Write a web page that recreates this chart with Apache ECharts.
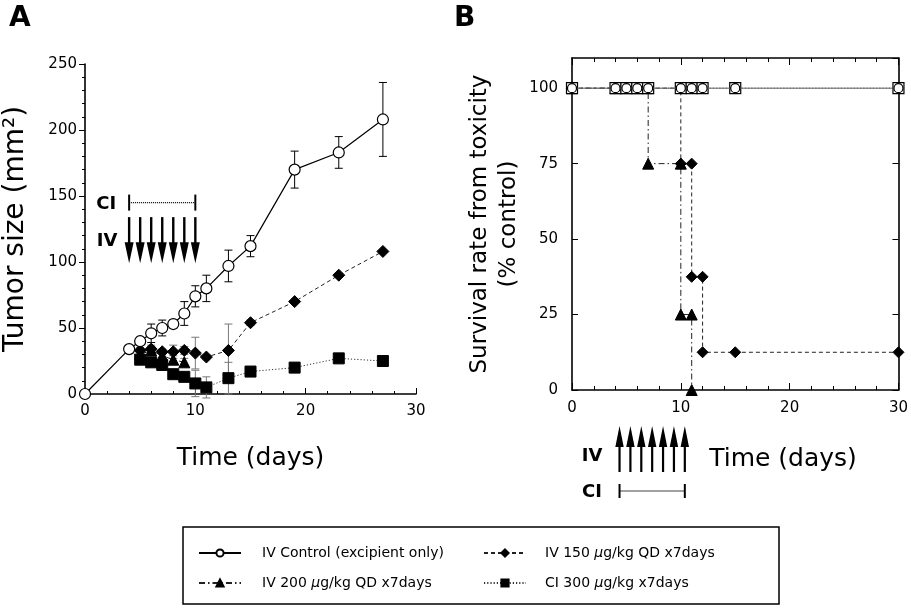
<!DOCTYPE html>
<html><head><meta charset="utf-8">
<script src="https://cdn.jsdelivr.net/npm/echarts@6/dist/echarts.min.js"></script>
<style>html,body{margin:0;padding:0;background:#fff}#c{width:911px;height:610px}</style>
</head><body><div id="c"></div><script>
// ---------- DATA ----------
const NAME_CTRL = 'IV Control (excipient only)';
const NAME_150 = 'IV 150 μg/kg QD x7days';
const NAME_200 = 'IV 200 μg/kg QD x7days';
const NAME_CI = 'CI 300 μg/kg x7days';

// Panel A: tumor size (mm2)
const ctrlDays = [0, 4, 5, 6, 7, 8, 9, 10, 11, 13, 15, 19, 23, 27];
const ctrlSize = [0, 34, 40, 46, 50, 53, 61, 74, 80, 97, 112, 170, 183, 208];
const ctrlErr  = [0, 0, 3, 7, 6, 3, 9, 8, 10, 12, 8, 14, 12, 28];

const iv150Days = [4, 5, 6, 7, 8, 9, 10, 11, 13, 15, 19, 23, 27];
const iv150Size = [34, 33, 34, 32, 32, 33, 31, 28, 33, 54, 70, 90, 108];
const iv150Err  = [0, 2, 3, 2, 5, 3, 12, 2, 20, 2, 0, 0, 0];

const iv200Days = [4, 5, 6, 7, 8, 9];
const iv200Size = [34, 30, 33, 29, 26, 24];
const iv200Err  = [0, 2, 3, 2, 3, 3];

const ci300Days = [4, 5, 6, 7, 8, 9, 10, 11, 13, 15, 19, 23, 27];
const ci300Size = [34, 26, 24, 22, 15, 13, 8, 5, 12, 17, 20, 27, 25];
const ci300Err  = [0, 3, 3, 2, 2, 2, 10, 8, 12, 2, 0, 0, 0];

// Panel B: survival (% control)
const survCtrlDays = [0, 4, 5, 6, 7, 10, 11, 12, 15, 30];
const survCtrl     = [100, 100, 100, 100, 100, 100, 100, 100, 100, 100];
const survCiDays   = [0, 4, 5, 6, 7, 10, 11, 12, 15, 30];
const survCi       = [100, 100, 100, 100, 100, 100, 100, 100, 100, 100];
const surv150Days  = [0, 4, 5, 6, 7, 10, 10, 11, 11, 12, 12, 15, 30];
const surv150      = [100, 100, 100, 100, 100, 100, 75, 75, 37.5, 37.5, 12.5, 12.5, 12.5];
const surv200Days  = [0, 4, 5, 6, 7, 7, 10, 10, 11, 11];
const surv200      = [100, 100, 100, 100, 100, 75, 75, 25, 25, 0];

// Dosing schedule (days)
const doseDays = [4, 5, 6, 7, 8, 9, 10];
const ciStart = 4, ciEnd = 10;

// Axis ticks
const xTicksA = [0, 10, 20, 30];
const yTicksA = [0, 50, 100, 150, 200, 250];
const yTicksB = [0, 25, 50, 75, 100];

// ---------- CHART ----------
const FONT = 'DejaVu Sans';
const chart = echarts.init(document.getElementById('c'));
const pairs = (xs, ys) => xs.map((x, i) => [x, ys[i]]);

const DASHED = [4, 3], DASHDOT = [6, 3, 1.5, 3], DOTTED = [1.2, 2];
const axisLine = {show: true, onZero: false, lineStyle: {color: '#000', width: 1.6}};

function errSeries(xi, yi, days, vals, errs, color) {
  return {
    type: 'custom', xAxisIndex: xi, yAxisIndex: yi, silent: true, z: 1,
    data: days.map((d, i) => [d, vals[i], errs[i]]).filter(r => r[2] > 0),
    renderItem(params, api) {
      const x = api.value(0), y = api.value(1), e = api.value(2);
      const t = api.coord([x, y + e]), b = api.coord([x, y - e]), w = 4;
      const st = {stroke: color, lineWidth: 1};
      return {type: 'group', children: [
        {type: 'line', shape: {x1: t[0], y1: t[1], x2: b[0], y2: b[1]}, style: st},
        {type: 'line', shape: {x1: t[0] - w, y1: t[1], x2: t[0] + w, y2: t[1]}, style: st},
        {type: 'line', shape: {x1: b[0] - w, y1: b[1], x2: b[0] + w, y2: b[1]}, style: st}
      ]};
    }
  };
}
function firstHidden(data) {
  return data.map((p, i) => i === 0 ? {value: p, symbol: 'none'} : p);
}

const black = {color: '#000', borderColor: '#000', borderWidth: 1};
const white = {color: '#fff', borderColor: '#000', borderWidth: 1.2};

const legendText = {
  fontFamily: FONT, fontSize: 14, color: '#000',
  rich: {i: {fontFamily: FONT, fontSize: 14, fontStyle: 'italic', color: '#000'}}
};
const legendFmt = n => n.replace('μ', '{i|μ}');

const option = {
  animation: false,
  backgroundColor: '#fff',
  textStyle: {fontFamily: FONT},
  title: [
    {text: 'A', left: 4, top: 0, textStyle: {fontFamily: FONT, fontSize: 28, fontWeight: 'bold', color: '#000'}},
    {text: 'B', left: 449, top: 0, textStyle: {fontFamily: FONT, fontSize: 28, fontWeight: 'bold', color: '#000'}}
  ],
  legend: [
    {data: [NAME_CTRL, NAME_200], orient: 'vertical', left: 193, top: 541, itemWidth: 42, itemHeight: 9,
     itemGap: 16, selectedMode: false, formatter: legendFmt, textStyle: Object.assign({padding: [0, 0, 0, 16]}, legendText)},
    {data: [NAME_150, NAME_CI], orient: 'vertical', left: 478, top: 541, itemWidth: 42, itemHeight: 9,
     itemGap: 16, selectedMode: false, formatter: legendFmt, textStyle: Object.assign({padding: [0, 0, 0, 14]}, legendText)}
  ],
  grid: [
    {left: 85, top: 64, width: 331, height: 330},
    {left: 572, top: 58, width: 328, height: 332}
  ],
  xAxis: [
    {gridIndex: 0, type: 'value', min: 0, max: 30, interval: 10, axisLine,
     axisTick: {inside: true, length: 6, lineStyle: {color: '#000'}},
     minorTick: {show: true, splitNumber: 5, length: 3, lineStyle: {color: '#000'}},
     splitLine: {show: false},
     axisLabel: {fontFamily: FONT, fontSize: 15, color: '#000', margin: 10,
       formatter: v => xTicksA.includes(v) ? String(v) : ''},
     name: 'Time (days)', nameLocation: 'middle', nameGap: 52,
     nameTextStyle: {fontFamily: FONT, fontSize: 25, color: '#000'}},
    {gridIndex: 1, type: 'value', min: 0, max: 30, interval: 10, axisLine,
     axisTick: {inside: true, length: 7, lineStyle: {color: '#000'}},
     minorTick: {show: true, splitNumber: 5, length: 4, lineStyle: {color: '#000'}},
     splitLine: {show: false},
     axisLabel: {fontFamily: FONT, fontSize: 15, color: '#000', margin: 11}},
    {gridIndex: 1, type: 'value', position: 'top', min: 0, max: 30, interval: 10, axisLine,
     axisTick: {inside: true, length: 7, lineStyle: {color: '#000'}},
     minorTick: {show: true, splitNumber: 5, length: 4, lineStyle: {color: '#000'}},
     splitLine: {show: false}, axisLabel: {show: false}}
  ],
  yAxis: [
    {gridIndex: 0, type: 'value', min: 0, max: 250, interval: 50, axisLine,
     axisTick: {inside: false, length: 6, lineStyle: {color: '#000'}},
     minorTick: {show: true, splitNumber: 5, length: 3, lineStyle: {color: '#000'}},
     splitLine: {show: false},
     axisLabel: {fontFamily: FONT, fontSize: 15, color: '#000', margin: 8,
       formatter: v => yTicksA.includes(v) ? String(v) : ''},
     name: 'Tumor size (mm²)', nameLocation: 'middle', nameGap: 55,
     nameTextStyle: {fontFamily: FONT, fontSize: 28, color: '#000'}},
    {gridIndex: 1, type: 'value', min: 0, max: 110, interval: 25, axisLine,
     axisTick: {inside: true, length: 6, lineStyle: {color: '#000'}},
     splitLine: {show: false},
     axisLabel: {fontFamily: FONT, fontSize: 15, color: '#000', margin: 14, showMaxLabel: false,
       formatter: v => yTicksB.includes(v) ? String(v) : ''},
     name: 'Survival rate from toxicity\n(% control)', nameLocation: 'middle', nameGap: 48,
     nameTextStyle: {fontFamily: FONT, fontSize: 23, color: '#000', lineHeight: 29, align: 'center'}},
    {gridIndex: 1, type: 'value', position: 'right', min: 0, max: 110, interval: 25, axisLine,
     axisTick: {inside: true, length: 6, lineStyle: {color: '#000'}},
     splitLine: {show: false}, axisLabel: {show: false}}
  ],
  series: [
    // ----- Panel A -----
    errSeries(0, 0, ci300Days, ci300Size, ci300Err, '#777'),
    errSeries(0, 0, iv200Days, iv200Size, iv200Err, '#777'),
    errSeries(0, 0, iv150Days, iv150Size, iv150Err, '#777'),
    errSeries(0, 0, ctrlDays, ctrlSize, ctrlErr, '#000'),
    {name: NAME_CI, type: 'line', xAxisIndex: 0, yAxisIndex: 0, data: firstHidden(pairs(ci300Days, ci300Size)),
     symbol: 'rect', symbolSize: 11, itemStyle: black, lineStyle: {color: '#333', width: 1, type: DOTTED}, z: 3},
    {name: NAME_200, type: 'line', xAxisIndex: 0, yAxisIndex: 0, data: firstHidden(pairs(iv200Days, iv200Size)),
     symbol: 'triangle', symbolSize: 11, itemStyle: black, lineStyle: {color: '#222', width: 1, type: DASHDOT}, z: 3},
    {name: NAME_150, type: 'line', xAxisIndex: 0, yAxisIndex: 0, data: firstHidden(pairs(iv150Days, iv150Size)),
     symbol: 'diamond', symbolSize: 12, itemStyle: black, lineStyle: {color: '#222', width: 1, type: DASHED}, z: 3},
    {name: NAME_CTRL, type: 'line', xAxisIndex: 0, yAxisIndex: 0, data: pairs(ctrlDays, ctrlSize),
     symbol: 'circle', symbolSize: 11, itemStyle: white, lineStyle: {color: '#000', width: 1.2, type: 'solid'}, z: 4},
    // ----- Panel B -----
    {name: NAME_150, type: 'line', xAxisIndex: 1, yAxisIndex: 1, data: pairs(surv150Days, surv150),
     symbol: 'diamond', symbolSize: 11, itemStyle: black, lineStyle: {color: '#222', width: 1, type: DASHED}, z: 3},
    {name: NAME_200, type: 'line', xAxisIndex: 1, yAxisIndex: 1, data: pairs(surv200Days, surv200),
     symbol: 'triangle', symbolSize: 11, itemStyle: black, lineStyle: {color: '#222', width: 1, type: DASHDOT}, z: 3},
    {name: NAME_CI, type: 'line', xAxisIndex: 1, yAxisIndex: 1, data: pairs(survCiDays, survCi),
     symbol: 'rect', symbolSize: 11, itemStyle: white, lineStyle: {color: '#555', width: 1, type: DOTTED}, z: 4},
    {name: NAME_CTRL, type: 'line', xAxisIndex: 1, yAxisIndex: 1, data: pairs(survCtrlDays, survCtrl),
     symbol: 'circle', symbolSize: 9, itemStyle: white, lineStyle: {color: '#666', width: 1, type: 'solid'}, z: 5}
  ]
};
chart.setOption(option);

// ---------- Annotations (dosing schedule) ----------
const toPx = (xi, yi, x, y) => chart.convertToPixel({xAxisIndex: xi, yAxisIndex: yi}, [x, y]);
const g = [];
const boldFont = 'bold 18px ' + FONT;
// Panel A: CI bar and IV arrows (pointing down)
{
  const a = toPx(0, 0, ciStart, 145), b = toPx(0, 0, ciEnd, 145);
  g.push({type: 'line', shape: {x1: a[0], y1: a[1], x2: b[0], y2: b[1]}, style: {stroke: '#000', lineWidth: 1.3, lineDash: [1, 1]}});
  g.push({type: 'line', shape: {x1: a[0], y1: a[1] - 8, x2: a[0], y2: a[1] + 8}, style: {stroke: '#000', lineWidth: 2}});
  g.push({type: 'line', shape: {x1: b[0], y1: b[1] - 8, x2: b[0], y2: b[1] + 8}, style: {stroke: '#000', lineWidth: 2}});
  g.push({type: 'text', style: {text: 'CI', x: a[0] - 23, y: a[1] + 2, font: boldFont, fill: '#000', align: 'center', verticalAlign: 'middle'}});
  doseDays.forEach(d => {
    const top = toPx(0, 0, d, 134), tip = toPx(0, 0, d, 99);
    const hb = tip[1] - 21;
    g.push({type: 'line', shape: {x1: top[0], y1: top[1], x2: top[0], y2: hb + 2}, style: {stroke: '#000', lineWidth: 2.4}});
    g.push({type: 'polygon', shape: {points: [[tip[0] - 4.5, hb], [tip[0] + 4.5, hb], [tip[0], tip[1]]]}, style: {fill: '#000'}});
  });
  const iv = toPx(0, 0, ciStart, 100);
  g.push({type: 'text', style: {text: 'IV', x: iv[0] - 22, y: 241, font: boldFont, fill: '#000', align: 'center', verticalAlign: 'middle'}});
}
// Panel B: IV arrows (pointing up) and CI bar below the axis
{
  const off = 4;
  doseDays.forEach(d => {
    const p = toPx(1, 1, d, 0);
    const x = p[0] + off, tip = 426, hb = 447, bottom = 472;
    g.push({type: 'line', shape: {x1: x, y1: bottom, x2: x, y2: hb - 2}, style: {stroke: '#000', lineWidth: 2.2}});
    g.push({type: 'polygon', shape: {points: [[x - 4.2, hb], [x + 4.2, hb], [x, tip]]}, style: {fill: '#000'}});
  });
  const a = toPx(1, 1, ciStart, 0), b = toPx(1, 1, ciEnd, 0);
  const y = 491, x1 = a[0] + off, x2 = b[0] + off;
  g.push({type: 'line', shape: {x1, y1: y, x2, y2: y}, style: {stroke: '#000', lineWidth: 1.3, lineDash: [1, 1]}});
  g.push({type: 'line', shape: {x1, y1: y - 7, x2: x1, y2: y + 7}, style: {stroke: '#000', lineWidth: 2}});
  g.push({type: 'line', shape: {x1: x2, y1: y - 7, x2, y2: y + 7}, style: {stroke: '#000', lineWidth: 2}});
  g.push({type: 'text', style: {text: 'IV', x: 592, y: 456, font: boldFont, fill: '#000', align: 'center', verticalAlign: 'middle'}});
  g.push({type: 'text', style: {text: 'CI', x: 592, y: 492, font: boldFont, fill: '#000', align: 'center', verticalAlign: 'middle'}});
  g.push({type: 'text', style: {text: 'Time (days)', x: 783, y: 459, font: '25px ' + FONT, fill: '#000', align: 'center', verticalAlign: 'middle'}});
}
// Legend frame
g.push({type: 'rect', shape: {x: 183, y: 527, width: 596, height: 77}, style: {fill: 'none', stroke: '#000', lineWidth: 1.5}, z: -1});
chart.setOption({graphic: g});
</script></body></html>
